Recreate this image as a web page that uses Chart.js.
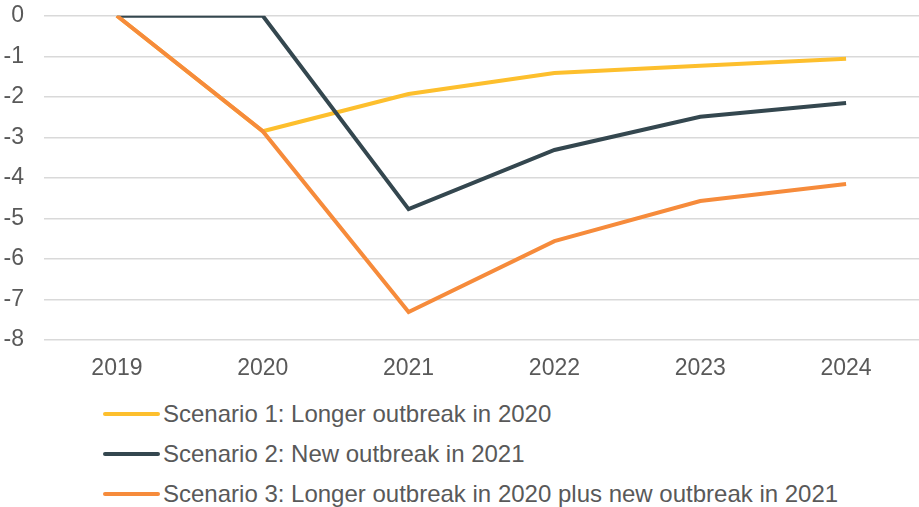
<!DOCTYPE html>
<html>
<head>
<meta charset="utf-8">
<script src="https://cdn.jsdelivr.net/npm/chart.js@4.4.1/dist/chart.umd.min.js"></script>
<style>
  body { margin: 0; background: #fff; font-family: "Liberation Sans", Arial, sans-serif; }
  #wrap { position: relative; width: 919px; height: 507px; overflow: hidden; }
  /* el canvas sube 18px para que la linea del 0 quede arriba del todo */
  #chartBox { position: absolute; left: 0; top: -18px; width: 919px; height: 403px; }
  #leyenda { position: absolute; left: 103px; top: 394px; }
  .item { display: flex; align-items: center; height: 40px; font-size: 24px; color: #595959; white-space: nowrap; }
  .linea { width: 57px; height: 4px; border-radius: 2px; margin-right: 3px; }
</style>
</head>
<body>
<div id="wrap">
  <div id="chartBox"><canvas id="myChart"></canvas></div>
  <div id="leyenda"></div>
</div>
<script>
const years = ["2019", "2020", "2021", "2022", "2023", "2024"];
const scenario1 = [0, -2.85, -1.93, -1.41, -1.23, -1.06];
const scenario2 = [0, 0, -4.77, -3.31, -2.49, -2.15];
const scenario3 = [0, -2.85, -7.31, -5.56, -4.57, -4.15];
const seriesNames = [
  "Scenario 1: Longer outbreak in 2020",
  "Scenario 2: New outbreak in 2021",
  "Scenario 3: Longer outbreak in 2020 plus new outbreak in 2021"
];
const colores = ["#fdbf2d", "#34474f", "#f68b3b"];

const series = [scenario1, scenario2, scenario3];
const fuente = { family: "'Liberation Sans', Arial, sans-serif", size: 23 };

const ctx = document.getElementById("myChart");

new Chart(ctx, {
  type: "line",
  data: {
    labels: years,
    datasets: series.map((valores, i) => ({
      label: seriesNames[i],
      data: valores,
      borderColor: colores[i],
      backgroundColor: colores[i],
      borderWidth: 4,
      pointRadius: 0,
      tension: 0,
      order: 3 - i // orange on top, yellow at the bottom
    }))
  },
  options: {
    animation: false,
    responsive: true,
    maintainAspectRatio: false,
    layout: { padding: { top: 0, right: -2, left: 0, bottom: 0 } },
    plugins: {
      legend: { display: false },
      tooltip: { enabled: false }
    },
    scales: {
      x: {
        offset: true,
        grid: { display: false },
        border: { display: false },
        ticks: { color: "#595959", font: fuente, padding: 7 },
        afterFit: (scale) => { scale.height = 45; }
      },
      y: {
        min: -8,
        max: 0,
        grid: { color: "#d9d9d9", lineWidth: 1.5, drawTicks: false },
        border: { display: false },
        ticks: { stepSize: 1, color: "#595959", font: fuente, padding: 20 },
        afterFit: (scale) => { scale.width = 44; }
      }
    }
  }
});

// leyenda en HTML, una serie por fila
const leyenda = document.getElementById("leyenda");
seriesNames.forEach((nombre, i) => {
  const fila = document.createElement("div");
  fila.className = "item";
  fila.innerHTML = `<span class="linea" style="background:${colores[i]}"></span><span>${nombre}</span>`;
  leyenda.appendChild(fila);
});
</script>
</body>
</html>
